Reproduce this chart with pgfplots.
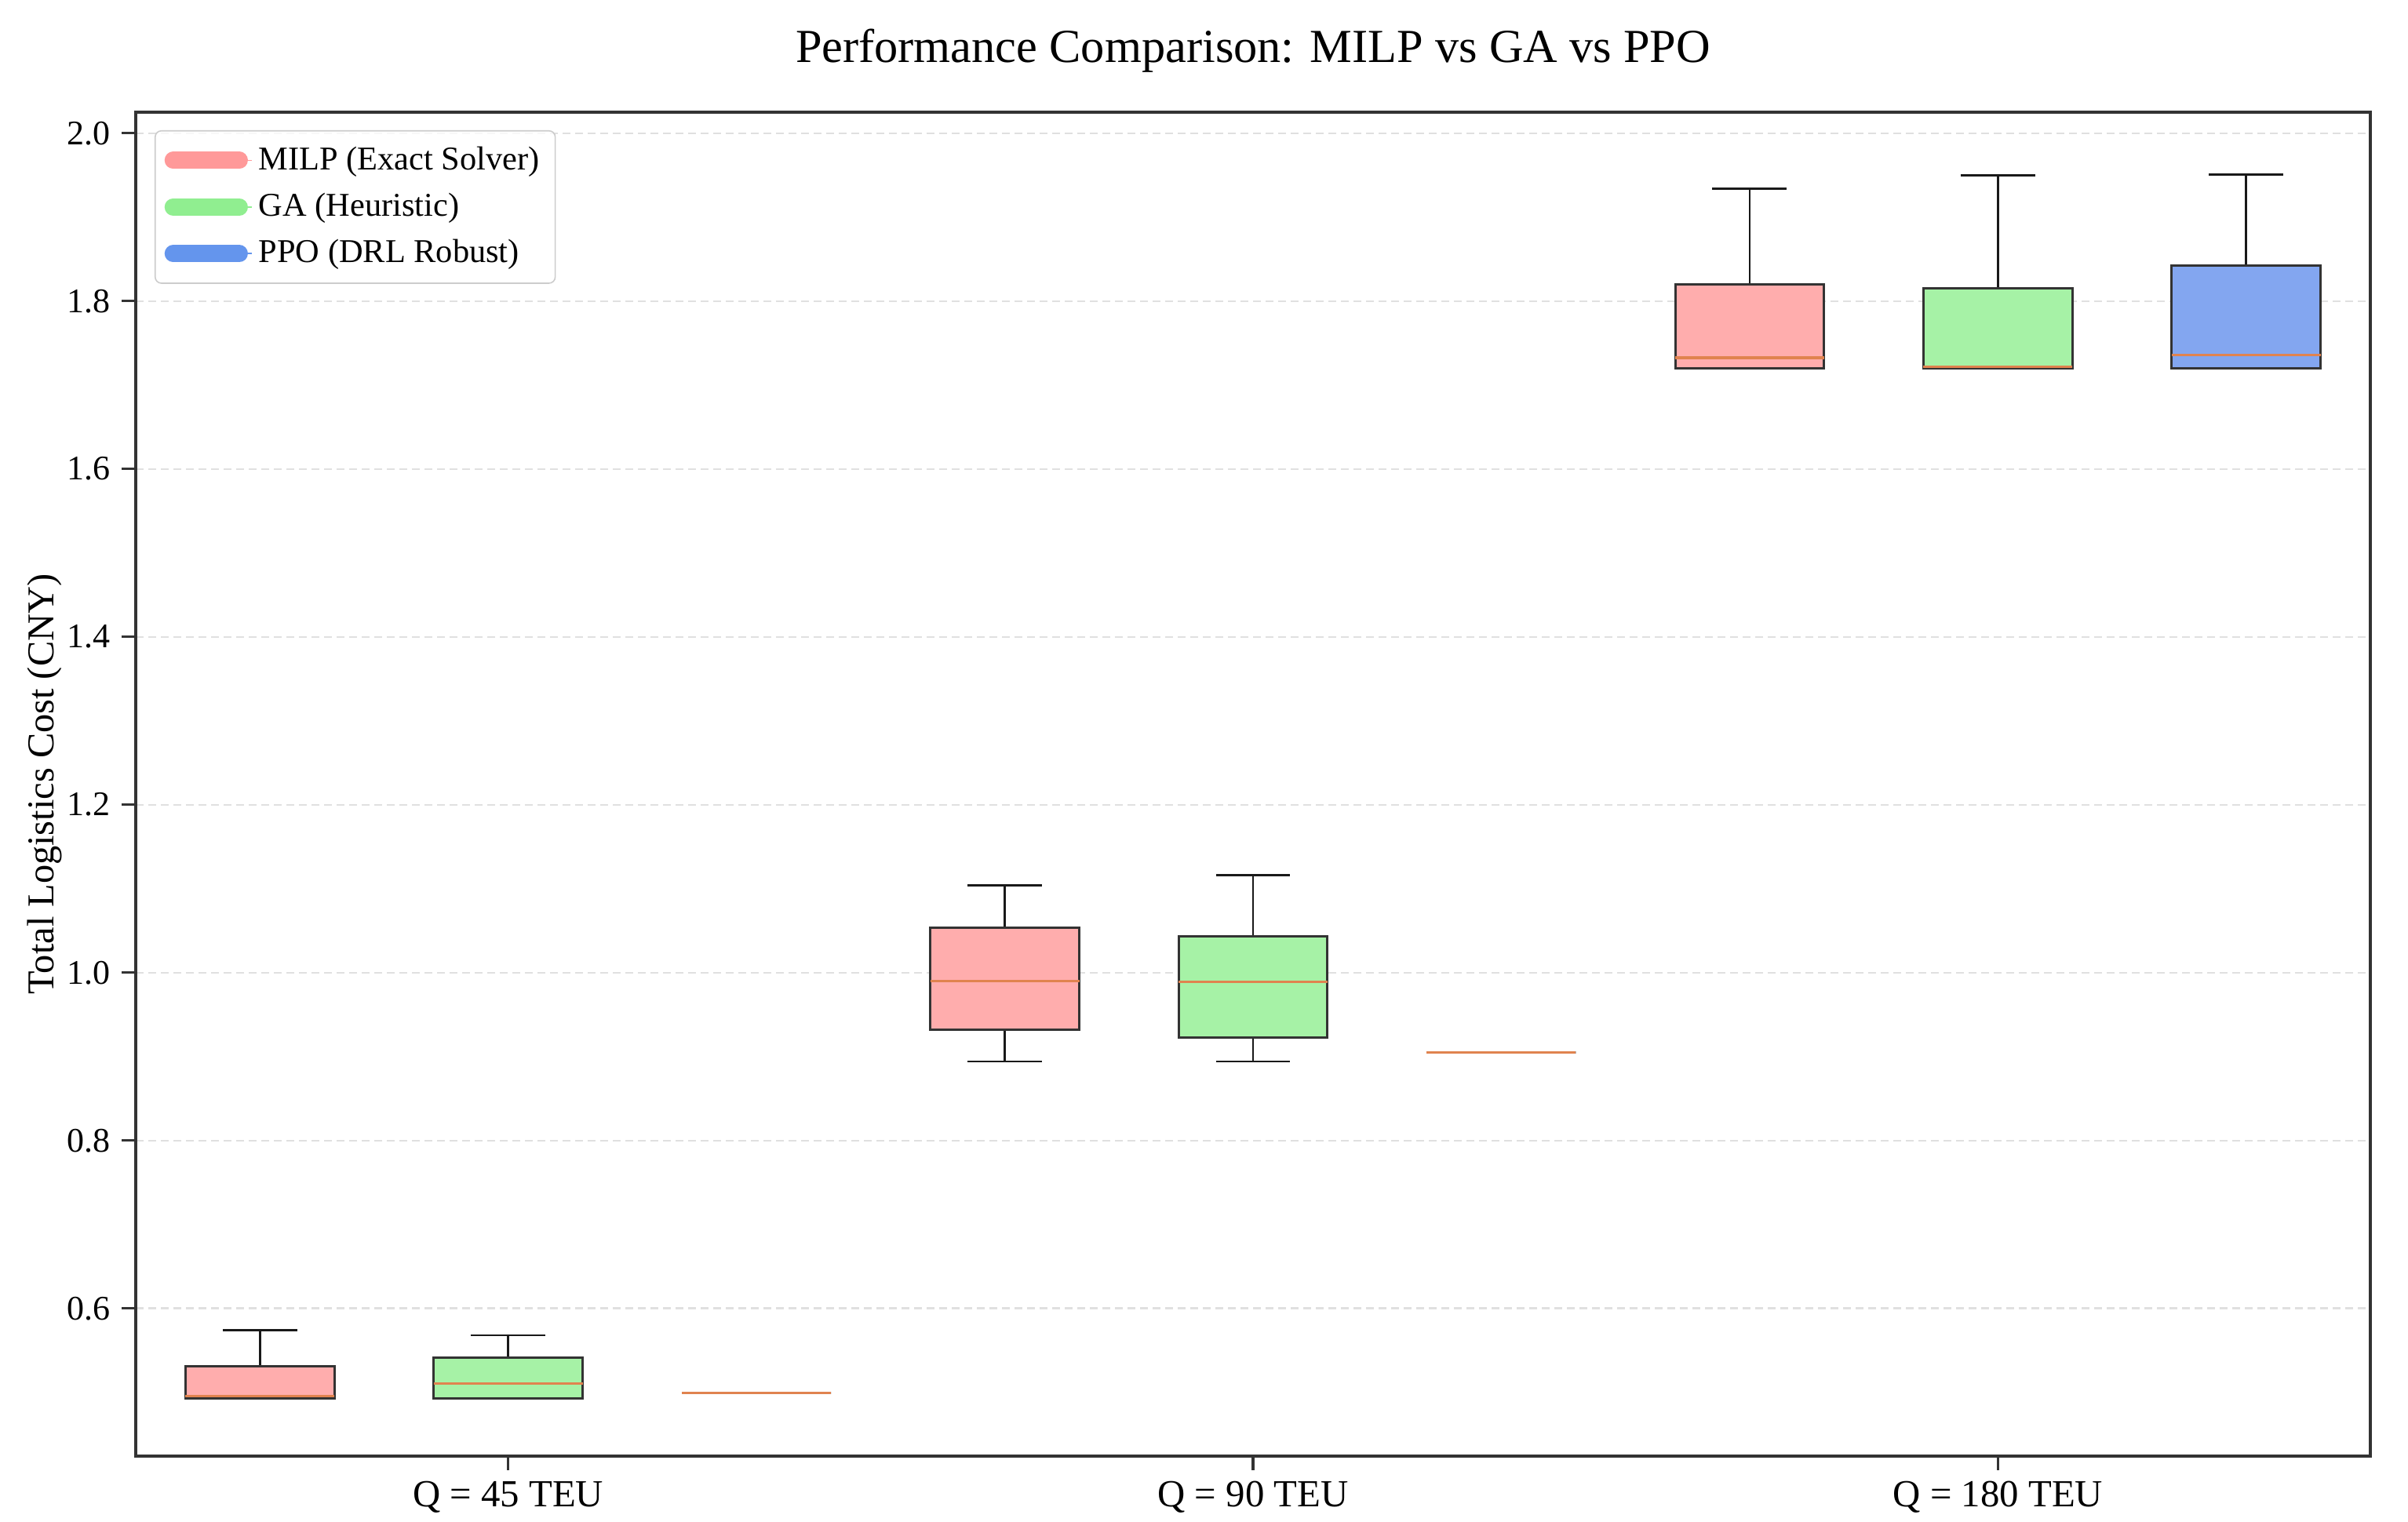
\documentclass[border=0pt]{standalone}
\usepackage{fontspec}
\setmainfont{Liberation Serif}
\usepackage{pgfplots}
\pgfplotsset{compat=1.18}
\usepgfplotslibrary{statistics}

\definecolor{milpfill}{HTML}{FFADAD}
\definecolor{gafill}{HTML}{A6F2A6}
\definecolor{ppofill}{HTML}{83A6F0}
\definecolor{milpleg}{HTML}{FF9999}
\definecolor{galeg}{HTML}{90EE90}
\definecolor{ppoleg}{HTML}{6495ED}
\definecolor{medc}{HTML}{E0834F}
\definecolor{edgec}{HTML}{333333}

\pgfplotsset{
  bx/.style={
    boxplot/draw direction=y,
    boxplot/box extend=0.2,
    boxplot/whisker extend=0.1,
    boxplot/every box/.style={fill=#1, draw=edgec, line width=0.75pt},
    boxplot/every whisker/.style={draw=black!90, line width=0.65pt},
    boxplot/every median/.style={draw=medc, line width=0.8pt},
  },
}

\begin{document}
\begin{tikzpicture}
\useasboundingbox (-43.25pt,-20.75pt) rectangle (724pt,464pt);
\begin{axis}[
  scale only axis,
  width=712pt, height=428.25pt,
  xmin=-0.5, xmax=2.5,
  ymin=0.424, ymax=2.025,
  xtick={0,1,2},
  xticklabels={Q = 45 TEU, Q = 90 TEU, Q = 180 TEU},
  ytick={0.6,0.8,1.0,1.2,1.4,1.6,1.8,2.0},
  yticklabel style={/pgf/number format/fixed, /pgf/number format/fixed zerofill, /pgf/number format/precision=1},
  /pgf/number format/assume math mode=true,
  tick align=outside,
  major tick length=4.5pt,
  tick style={draw=edgec, line width=0.8pt},
  xtick pos=lower, ytick pos=left,
  axis line style={draw=edgec, line width=1pt},
  ymajorgrids,
  grid style={draw=black!12, line width=0.6pt, dash pattern=on 2.5pt off 1.5pt},
  x tick label style={font=\fontsize{12.2}{14}\selectfont},
  y tick label style={font=\fontsize{11}{13}\selectfont},
  ylabel={Total Logistics Cost (CNY)},
  every axis y label/.style={at={(axis description cs:-0.0407,0.5)}, rotate=90, anchor=center, font=\fontsize{12.1}{14}\selectfont},
  title={Performance Comparison: MILP vs GA vs PPO},
  every axis title/.style={at={(axis description cs:0.5,1)}, anchor=center, yshift=19.5pt, font=\fontsize{15.1}{18}\selectfont},
  legend style={at={(axis description cs:0.0084,0.9866)}, anchor=north west,
    draw=black!20, rounded corners=2pt, fill=white, fill opacity=0.8, text opacity=1,
    font=\fontsize{10.6}{12}\selectfont, row sep=2pt, inner sep=3pt},
  legend cell align=left,
  legend image code/.code={\draw[#1, line width=5.5pt, line cap=round] (0.03cm,0cm) -- (0.77cm,0cm);
    \path (0cm,0cm) -- (0.91cm,0cm);},
]
\addlegendimage{draw=milpleg}
\addlegendentry{MILP (Exact Solver)}
\addlegendimage{draw=galeg}
\addlegendentry{GA (Heuristic)}
\addlegendimage{draw=ppoleg}
\addlegendentry{PPO (DRL Robust)}

% Q = 45 TEU
\addplot[bx=milpfill, forget plot, boxplot prepared={draw position=-0.3333,
  lower whisker=0.4925, lower quartile=0.4925, median=0.4956, upper quartile=0.531, upper whisker=0.574}]
  coordinates {};
\addplot[bx=gafill, forget plot, boxplot prepared={draw position=0,
  lower whisker=0.4925, lower quartile=0.4925, median=0.5106, upper quartile=0.5414, upper whisker=0.568}]
  coordinates {};
\addplot[bx=ppofill, forget plot, boxplot prepared={draw position=0.3333,
  lower whisker=0.4994, lower quartile=0.4994, median=0.4994, upper quartile=0.4994, upper whisker=0.4994}]
  coordinates {};

% Q = 90 TEU
\addplot[bx=milpfill, forget plot, boxplot prepared={draw position=0.6667,
  lower whisker=0.894, lower quartile=0.932, median=0.990, upper quartile=1.053, upper whisker=1.104}]
  coordinates {};
\addplot[bx=gafill, forget plot, boxplot prepared={draw position=1,
  lower whisker=0.894, lower quartile=0.923, median=0.989, upper quartile=1.043, upper whisker=1.116}]
  coordinates {};
\addplot[bx=ppofill, forget plot, boxplot prepared={draw position=1.3333,
  lower whisker=0.905, lower quartile=0.905, median=0.905, upper quartile=0.905, upper whisker=0.905}]
  coordinates {};

% Q = 180 TEU
\addplot[bx=milpfill, forget plot, boxplot prepared={draw position=1.6667,
  lower whisker=1.720, lower quartile=1.720, median=1.7324, upper quartile=1.8196, upper whisker=1.934}]
  coordinates {};
\addplot[bx=gafill, forget plot, boxplot prepared={draw position=2,
  lower whisker=1.720, lower quartile=1.720, median=1.7215, upper quartile=1.8156, upper whisker=1.9495}]
  coordinates {};
\addplot[bx=ppofill, forget plot, boxplot prepared={draw position=2.3333,
  lower whisker=1.720, lower quartile=1.720, median=1.7355, upper quartile=1.8427, upper whisker=1.9508}]
  coordinates {};

\node[anchor=south west, inner sep=0pt, font=\fontsize{10}{12}\selectfont] at (axis description cs:0.0035,1.005) {×10\textsuperscript{6}};
\end{axis}
\end{tikzpicture}
\end{document}
